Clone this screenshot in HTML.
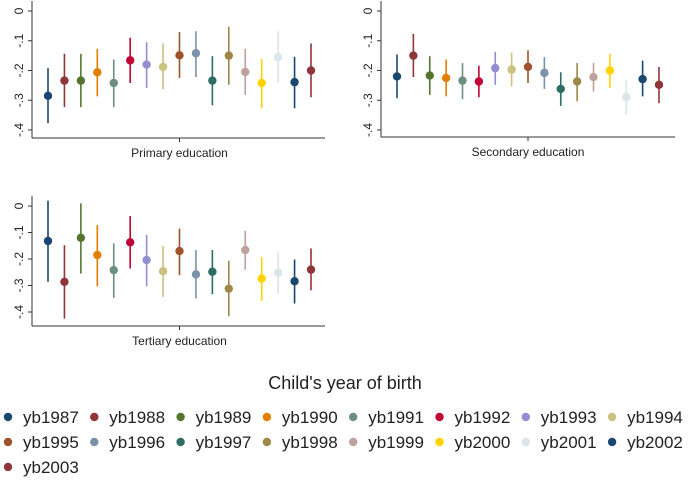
<!DOCTYPE html>
<html><head><meta charset="utf-8"><style>
body{margin:0;background:#fff;width:690px;height:482px;overflow:hidden;font-family:"Liberation Sans",sans-serif}
svg{display:block}
</style></head><body>
<svg id="chart" width="690" height="482" font-family="Liberation Sans, sans-serif"></svg>
<script>
const years=["yb1987","yb1988","yb1989","yb1990","yb1991","yb1992","yb1993","yb1994","yb1995","yb1996","yb1997","yb1998","yb1999","yb2000","yb2001","yb2002","yb2003"];
const colors=["#1a476f","#90353b","#55752f","#e37e00","#6e8e84","#c10534","#938dd2","#cac27e","#a0522d","#7b92a8","#2d6d66","#9c8847","#bfa19c","#ffd200","#d9e6eb","#1a476f","#90353b"];
const primaryEst=[-.285,-.234,-.234,-.206,-.242,-.166,-.18,-.188,-.149,-.142,-.234,-.15,-.205,-.242,-.155,-.239,-.2];
const primaryLo=[-.377,-.323,-.323,-.287,-.323,-.242,-.259,-.263,-.225,-.222,-.317,-.248,-.282,-.327,-.242,-.327,-.29];
const primaryHi=[-.192,-.144,-.144,-.127,-.163,-.09,-.105,-.109,-.071,-.068,-.152,-.053,-.127,-.161,-.068,-.154,-.109];
const secondaryEst=[-.22,-.15,-.217,-.225,-.234,-.237,-.192,-.197,-.188,-.208,-.262,-.237,-.222,-.2,-.29,-.229,-.248];
const secondaryLo=[-.293,-.222,-.282,-.287,-.296,-.29,-.248,-.253,-.242,-.262,-.319,-.304,-.271,-.259,-.349,-.287,-.31];
const secondaryHi=[-.146,-.077,-.152,-.163,-.175,-.184,-.137,-.14,-.132,-.155,-.206,-.175,-.175,-.144,-.233,-.167,-.188];
const tertiaryEst=[-.132,-.286,-.12,-.185,-.242,-.137,-.204,-.246,-.17,-.258,-.248,-.312,-.166,-.274,-.252,-.284,-.24];
const tertiaryLo=[-.286,-.425,-.255,-.303,-.347,-.236,-.303,-.343,-.261,-.349,-.333,-.416,-.24,-.358,-.331,-.368,-.318];
const tertiaryHi=[.02,-.148,.01,-.072,-.141,-.038,-.109,-.151,-.085,-.166,-.166,-.207,-.093,-.194,-.173,-.202,-.16];
const yTicks=[0,-.1,-.2,-.3,-.4];
const yTickLabels=["0","-.1","-.2","-.3","-.4"];
const legendTitle="Child's year of birth";

const NS="http://www.w3.org/2000/svg";
const svg=document.getElementById('chart');
function mk(tag,attrs,parent){const e=document.createElementNS(NS,tag);for(const k in attrs)e.setAttribute(k,attrs[k]);(parent||svg).appendChild(e);return e;}

const panels=[
 {name:"primary",title:"Primary education",est:primaryEst,lo:primaryLo,hi:primaryHi,ax:32,right:325,y0:11,y4:130,bottom:138,x0:48,x1:311},
 {name:"secondary",title:"Secondary education",est:secondaryEst,lo:secondaryLo,hi:secondaryHi,ax:381,right:675,y0:11,y4:130,bottom:137,x0:397,x1:659},
 {name:"tertiary",title:"Tertiary education",est:tertiaryEst,lo:tertiaryLo,hi:tertiaryHi,ax:32,right:325,y0:206,y4:312,bottom:326,x0:48,x1:311}
];
panels.forEach(p=>{
  const g=mk('g',{});
  
  
  const ys=v=>p.y0+(v/-.4)*(p.y4-p.y0);
  const xs=i=>p.x0+i*(p.x1-p.x0)/(years.length-1);
  const top=p.y0-10;
  const ya=mk('line',{x1:p.ax,y1:top,x2:p.ax,y2:p.bottom,stroke:'#333','stroke-width':1},g);
  
  
  const xa=mk('line',{x1:p.ax,y1:p.bottom,x2:p.right,y2:p.bottom,stroke:'#333','stroke-width':1},g);
  
  
  const cx=(p.x0+p.x1)/2;
  mk('line',{x1:cx,y1:p.bottom,x2:cx,y2:p.bottom+4,stroke:'#333'},g);
  yTicks.forEach((t,i)=>{
    const y=ys(t);
    mk('line',{x1:p.ax-4,y1:y,x2:p.ax,y2:y,stroke:'#333'},g);
    const tx=mk('text',{x:p.ax-9,y:y,transform:`rotate(-90 ${p.ax-9} ${y})`,'text-anchor':'middle','font-size':12,fill:'#222'},g);
    tx.textContent=yTickLabels[i];
    
    
  });
  const tt=mk('text',{x:cx,y:p.bottom+19,'text-anchor':'middle','font-size':12,fill:'#222'},g);
  tt.textContent=p.title;
  
  
  years.forEach((yr,i)=>{
    const x=xs(i);
    const l=mk('line',{x1:x,y1:ys(p.hi[i]),x2:x,y2:ys(p.lo[i]),stroke:colors[i],'stroke-width':1.6},g);
    
    
    const c=mk('circle',{cx:x,cy:ys(p.est[i]),r:4.2,fill:colors[i]},g);
    
    
  });
});
const lt=mk('text',{x:345,y:389,'text-anchor':'middle','font-size':18,fill:'#222'});
lt.textContent=legendTitle;


years.forEach((yr,i)=>{
  const col=i%8,row=Math.floor(i/8);
  const mx=8+col*86.3,my=417+row*25;
  const g=mk('g',{});
  
  
  mk('circle',{cx:mx,cy:my,r:4.2,fill:colors[i]},g);
  const t=mk('text',{x:mx+15,y:my+6,'font-size':17,fill:'#222'},g);
  t.textContent=yr;
});
</script>
</body></html>
